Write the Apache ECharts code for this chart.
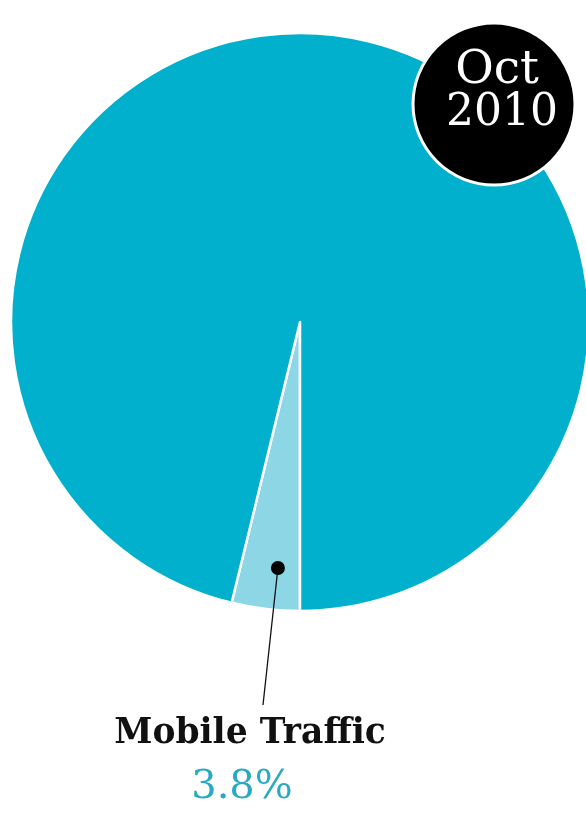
<!DOCTYPE html>
<html>
<head>
<meta charset="utf-8">
<script src="https://cdn.jsdelivr.net/npm/echarts@6/dist/echarts.min.js"></script>
<style>html,body{margin:0;padding:0;background:#fff;}#c{width:586px;height:817px;}</style>
</head>
<body>
<div id="c"></div>
<script>
const categories = ['Mobile Traffic', 'Other Traffic'];
const values = [3.8, 96.2];
const badgeLines = ['Oct', '2010'];
const labelTitle = 'Mobile Traffic';
const labelValue = '3.8%';

const CX = 300, CY = 322, R = 289;
const chart = echarts.init(document.getElementById('c'));
const total = values.reduce((a, b) => a + b, 0);
// point inside the mobile slice, measured clockwise from bottom
const theta = (values[0] / total) * Math.PI * 0.75;
const dotR = 247;
const dotX = CX - dotR * Math.sin(theta);
const dotY = CY + dotR * Math.cos(theta);

chart.setOption({
  animation: false,
  series: [{
    type: 'pie',
    center: [CX, CY],
    radius: [0, R],
    startAngle: -90,
    clockwise: true,
    label: { show: false },
    labelLine: { show: false },
    emphasis: { disabled: true },
    itemStyle: { borderColor: '#ffffff', borderWidth: 2.5 },
    data: categories.map((c, i) => ({
      name: c,
      value: values[i],
      itemStyle: { color: i === 0 ? '#8cd6e6' : '#00b0cc' }
    }))
  }],
  graphic: [
    { type: 'line', shape: { x1: dotX, y1: dotY, x2: 263, y2: 705 }, style: { stroke: '#111', lineWidth: 1.3 }, z: 10 },
    { type: 'circle', shape: { cx: dotX, cy: dotY, r: 7 }, style: { fill: '#000' }, z: 11 },
    { type: 'circle', shape: { cx: 494, cy: 104, r: 81 }, style: { fill: '#000', stroke: '#fff', lineWidth: 3 }, z: 12 },
    { type: 'text', x: 497, y: 71, style: { text: badgeLines[0], fill: '#fff', font: '47px "DejaVu Serif"', textAlign: 'center', textVerticalAlign: 'middle' }, z: 13 },
    { type: 'text', x: 502, y: 114, style: { text: badgeLines[1], fill: '#fff', font: '44px "DejaVu Serif"', textAlign: 'center', textVerticalAlign: 'middle' }, z: 13 },
    { type: 'text', x: 250, y: 734, style: { text: labelTitle, fill: '#111', font: 'bold 34.5px "DejaVu Serif"', textAlign: 'center', textVerticalAlign: 'middle' }, z: 13 },
    { type: 'text', x: 242, y: 788, style: { text: labelValue, fill: '#2aaac2', font: '40px "DejaVu Serif"', textAlign: 'center', textVerticalAlign: 'middle' }, z: 13 }
  ]
});
</script>
</body>
</html>
